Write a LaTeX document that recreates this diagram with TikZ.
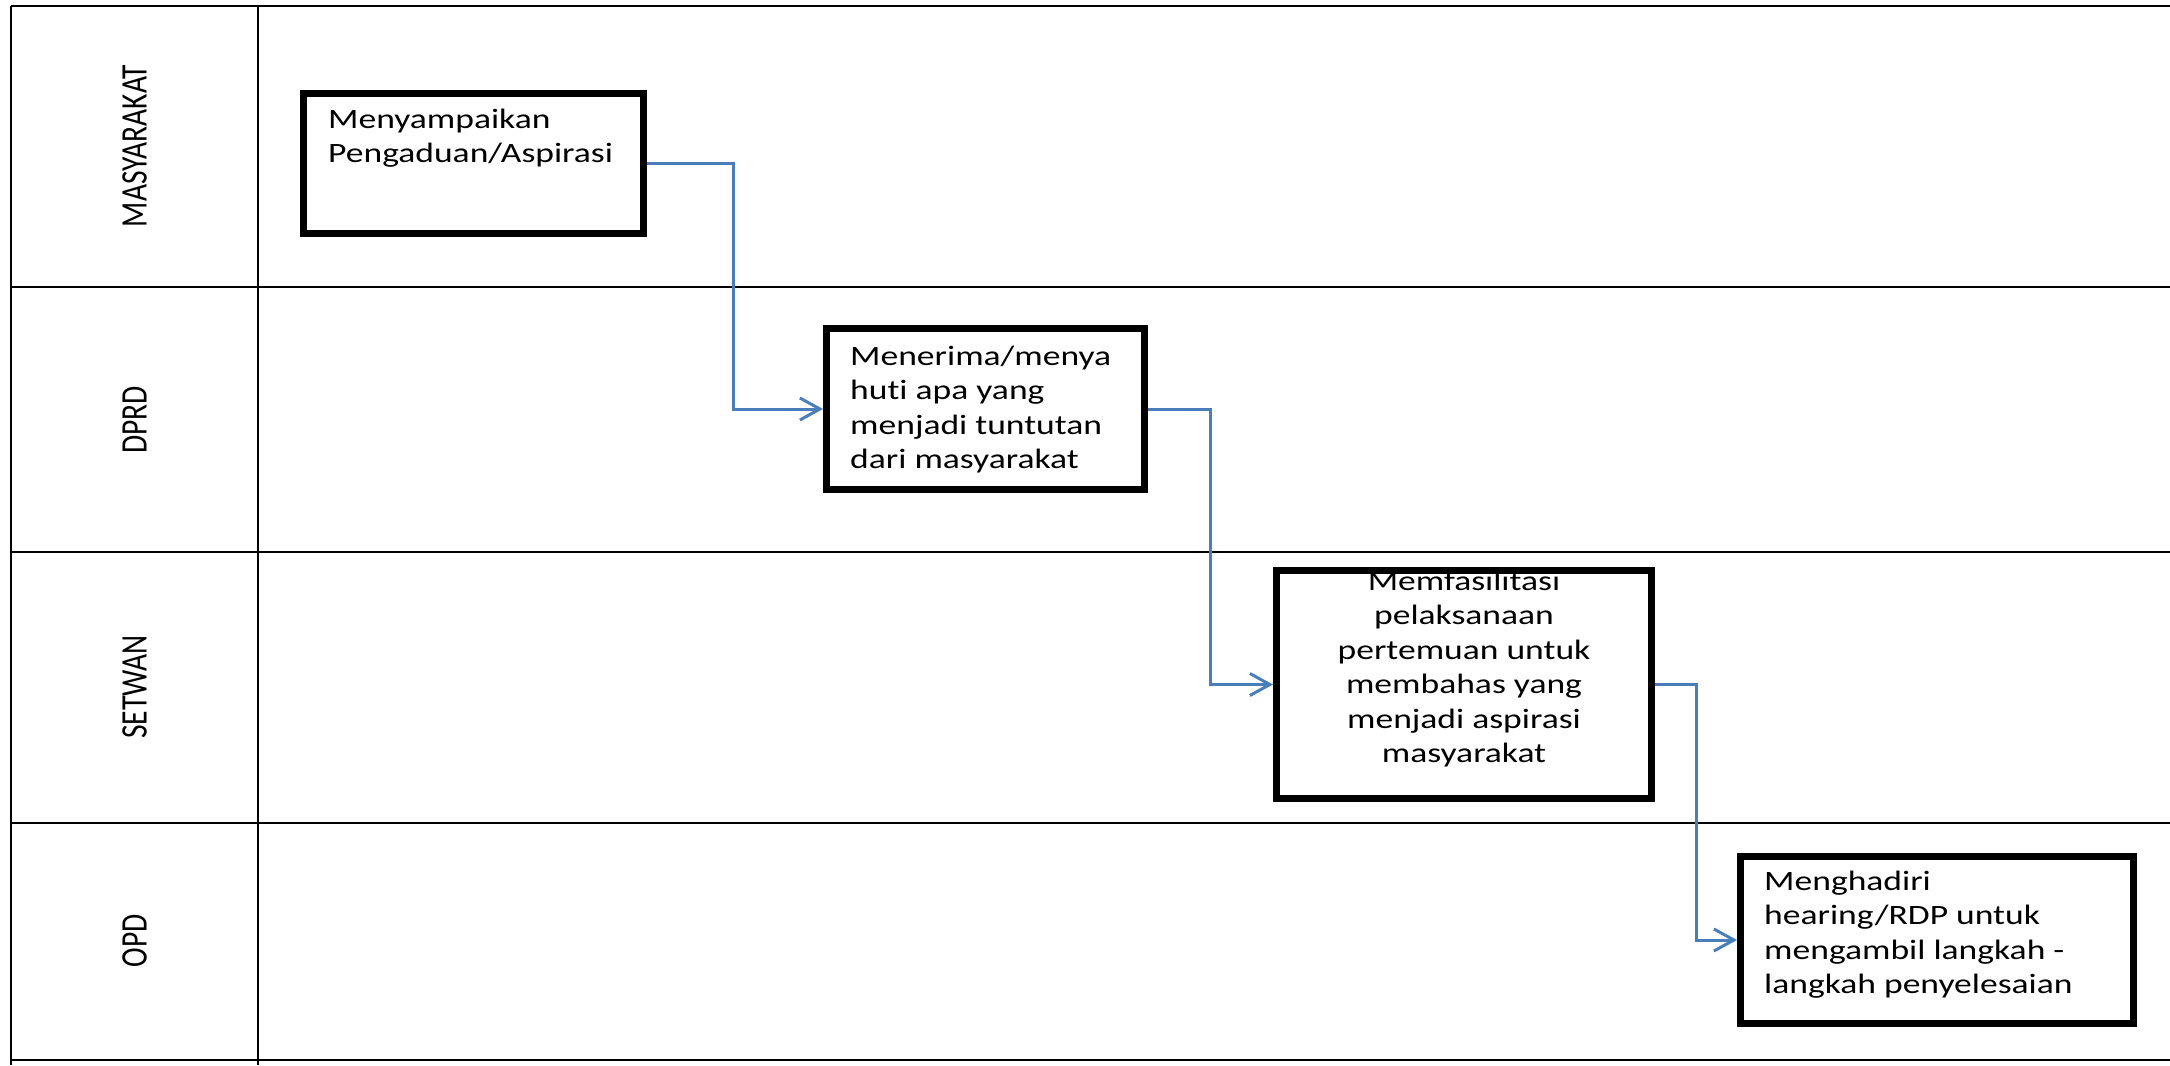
\documentclass[tikz,border=0pt]{standalone}
\usepackage{fontspec}
\setmainfont{Carlito}[FakeStretch=1.27,Ligatures=NoCommon]
\newfontfamily\lanefont{Carlito}[Ligatures=NoCommon]
\usetikzlibrary{arrows.meta}
\definecolor{flowblue}{RGB}{74,126,187}
\tikzset{
  grid/.style={line width=2.7pt, black},
  stepbox/.style={draw, line width=7pt, rectangle, inner sep=0pt, outer sep=3.5pt},
  txt/.style={inner sep=0pt, font=\fontsize{28}{34.5}\selectfont},
  lane/.style={inner sep=0pt, rotate=90, font=\lanefont\fontsize{29.5}{34}\selectfont},
  conn/.style={draw=flowblue, line width=3pt, -{Straight Barb[length=20pt,width=22pt,line width=3pt]}}
}
\begin{document}
\begin{tikzpicture}[x=1pt,y=-1pt]
\useasboundingbox (0,0) rectangle (2170,1065);
% lanes
\draw[grid] (11,6) -- (2170,6);
\draw[grid] (11,287) -- (2170,287);
\draw[grid] (11,552) -- (2170,552);
\draw[grid] (11,823) -- (2170,823);
\draw[grid] (11,1060) -- (2170,1060);
\draw[grid] (11,6) -- (11,1065);
\draw[grid] (258,6) -- (258,1065);
% lane labels
\node[lane] (l1) at (134.5,146) {\scalebox{1}[1.27]{MASYARAKAT}};
\node[lane] (l2) at (134.5,420) {\scalebox{1}[1.27]{DPRD}};
\node[lane] (l3) at (134.5,687) {\scalebox{1}[1.27]{SETWAN}};
\node[lane] (l4) at (134.5,941) {\scalebox{1}[1.27]{OPD}};
% boxes
\node[stepbox, minimum width=340pt, minimum height=140pt] (b1) at (473.5,163.5) {};
\node[stepbox, minimum width=318pt, minimum height=161pt] (b2) at (985.5,409) {};
\node[stepbox, minimum width=375pt, minimum height=228pt] (b3) at (1464,684.5) {};
\node[stepbox, minimum width=393pt, minimum height=167pt] (b4) at (1937,940) {};
% texts
\node[txt, anchor=base west] (t1) at ([shift={(28,38)}]b1.north west)
  {\begin{tabular}[t]{@{}l@{}}Menyampaikan\\Pengaduan/Aspirasi\end{tabular}};
\node[txt, anchor=base west] (t2) at ([shift={(27,40)}]b2.north west)
  {\begin{tabular}[t]{@{}l@{}}Menerima/menya\\huti apa yang\\menjadi tuntutan\\dari masyarakat\end{tabular}};
\node[txt, anchor=base] (t3) at ([shift={(0,23)}]b3.north)
  {\begin{tabular}[t]{@{}c@{}}Memfasilitasi\\pelaksanaan\\pertemuan untuk\\membahas yang\\menjadi aspirasi\\masyarakat\end{tabular}};
\node[txt, anchor=base west] (t4) at ([shift={(27,37)}]b4.north west)
  {\begin{tabular}[t]{@{}l@{}}Menghadiri\\hearing/RDP untuk\\mengambil langkah -\\langkah penyelesaian\end{tabular}};
% connectors
\coordinate (k1) at (733,0);
\coordinate (k2) at (1210,0);
\coordinate (k3) at (1696,0);
\draw[conn] (b1.east) -- (b1.east -| k1) -- (b2.west -| k1) -- (b2.west);
\draw[conn] (b2.east) -- (b2.east -| k2) -- (b3.west -| k2) -- (b3.west);
\draw[conn] (b3.east) -- (b3.east -| k3) -- (b4.west -| k3) -- (b4.west);
\end{tikzpicture}
\end{document}
